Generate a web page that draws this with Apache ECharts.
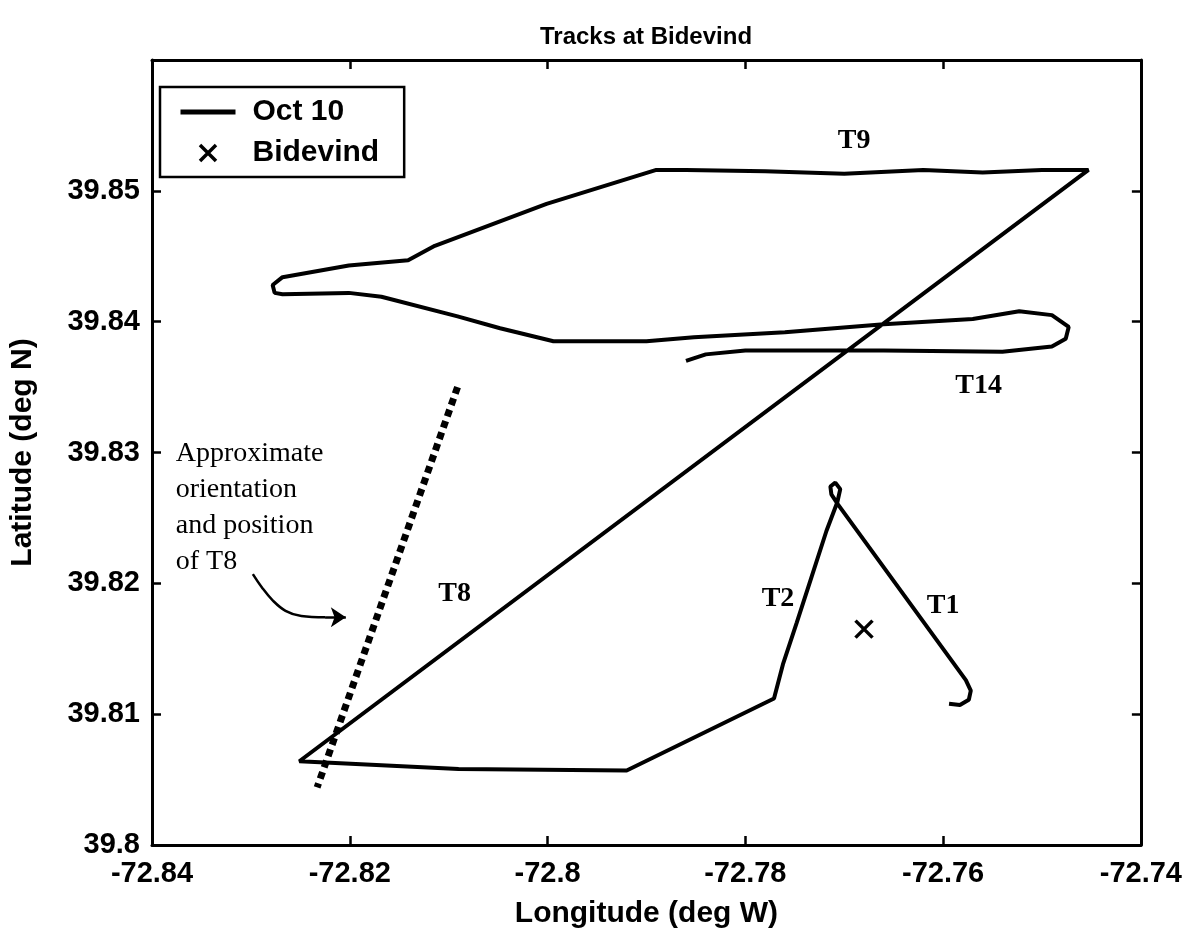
<!DOCTYPE html>
<html lang="en">
<head>
<meta charset="UTF-8" />
<title>Tracks at Bidevind</title>
<script src="https://cdn.jsdelivr.net/npm/echarts@6.0.0/dist/echarts.min.js"></script>
<style>html, body { margin: 0; background: #fff; }</style>
</head>
<body>
<div id="main" style="width: 1185px; height: 934px"></div>
<script type="text/javascript">
// ship track on Oct 10 (T1 -> T2 -> T8 -> T9 -> T14)
const trackLon = [
  -72.7594, -72.7583, -72.7574, -72.7572, -72.7577, -72.7706,
  -72.7713, -72.7714, -72.7709, -72.7704, -72.7707,
  -72.7718, -72.7733, -72.7748, -72.7762, -72.7771,
  -72.7920, -72.8090, -72.8251,
  -72.7453,
  -72.7500, -72.7560, -72.7620, -72.7700, -72.7780, -72.7860, -72.7890,
  -72.8001, -72.8114, -72.8141, -72.8201, -72.8268, -72.8278, -72.8276, -72.8268,
  -72.8201, -72.8168, -72.8091, -72.8048, -72.7994, -72.7900, -72.7852, -72.7760,
  -72.7660, -72.7570, -72.7523, -72.7490, -72.7473, -72.7476, -72.7490,
  -72.7540, -72.7660, -72.7800, -72.7840, -72.7860
];
const trackLat = [
  39.8108, 39.8107, 39.8111, 39.8118, 39.8126, 39.8260,
  39.8268, 39.8274, 39.8277, 39.8272, 39.8262,
  39.8240, 39.8205, 39.8170, 39.8138, 39.8112,
  39.8057, 39.8058, 39.8064,
  39.8516,
  39.8516, 39.8514, 39.8516, 39.8513, 39.8515, 39.8516, 39.8516,
  39.8490, 39.8458, 39.8447, 39.8443, 39.8434, 39.8428, 39.8422, 39.8421,
  39.8422, 39.8419, 39.8404, 39.8395, 39.8385, 39.8385, 39.8388, 39.8392,
  39.8398, 39.8402, 39.8408, 39.8405, 39.8396, 39.8387, 39.8381,
  39.8377, 39.8378, 39.8378, 39.8375, 39.8370
];
const bidevindLon = [-72.768];
const bidevindLat = [39.8165];

// approximate orientation of T8 (dotted)
const t8Lon = [-72.8091, -72.8233];
const t8Lat = [39.8350, 39.8044];

// curved arrow pointing at the dotted line: curve, then straight head segment
const arrowLon = [-72.8298, -72.8289, -72.8278, -72.8265, -72.8249, -72.8225];
const arrowLat = [39.8207, 39.8197, 39.8187, 39.8179, 39.8175, 39.8174];
const arrowHeadLon = [-72.8225, -72.8204];
const arrowHeadLat = [39.8174, 39.8174];

const xTicks = [-72.84, -72.82, -72.8, -72.78, -72.76, -72.74];
const yTicks = [39.8, 39.81, 39.82, 39.83, 39.84, 39.85];

const trackNames = ['T9', 'T14', 'T8', 'T2', 'T1'];
const trackNameLon = [-72.769, -72.7564, -72.8094, -72.7767, -72.7600];
const trackNameLat = [39.8538, 39.8351, 39.8192, 39.8188, 39.8183];

const noteText = 'Approximate\norientation\nand position\nof T8';
const noteLon = -72.8376;
const noteLat = 39.8313;

const sans = 'Liberation Sans, Arial, sans-serif';
const serif = 'Liberation Serif, Times New Roman, serif';
const xMark = 'path://M0,0L10,10M10,0L0,10';

function fmt(v) { return String(parseFloat(v.toFixed(2))); }

const axisBase = {
  type: 'value',
  axisLine: { show: true, onZero: false, lineStyle: { color: '#000', width: 3 } },
  axisTick: { show: true, inside: true, length: 9, lineStyle: { color: '#000', width: 2.5 } },
  splitLine: { show: false }
};
const labelFont = { color: '#000', fontFamily: sans, fontWeight: 'bold', fontSize: 29 };
const nameFont = { color: '#000', fontFamily: sans, fontWeight: 'bold', fontSize: 30 };

let chart = echarts.init(document.getElementById('main'));
chart.setOption({
  animation: false,
  backgroundColor: '#fff',
  title: {
    text: 'Tracks at Bidevind', left: 641, top: 20, textAlign: 'center',
    textStyle: { color: '#000', fontFamily: sans, fontWeight: 'bold', fontSize: 24 }
  },
  grid: { left: 141, right: 43, top: 60, bottom: 76 },
  legend: {
    left: 160, top: 87, orient: 'vertical',
    padding: [10, 25, 9, 18], itemGap: 11, itemWidth: 55, itemHeight: 16,
    borderColor: '#000', borderWidth: 2.5,
    lineStyle: { width: 5, color: '#000' },
    data: [
      { name: 'Oct 10', itemStyle: { color: 'transparent', borderColor: 'transparent', borderWidth: 0, opacity: 0 } },
      { name: 'Bidevind', icon: xMark, itemStyle: { color: 'transparent', borderColor: '#000', borderWidth: 3.5, opacity: 1 } }
    ],
    textStyle: { color: '#000', fontFamily: sans, fontWeight: 'bold', fontSize: 30, lineHeight: 30, padding: [0, 0, 0, 12] }
  },
  xAxis: [
    Object.assign({}, axisBase, {
      position: 'bottom', min: xTicks[0], max: xTicks[xTicks.length - 1], interval: 0.02,
      name: 'Longitude (deg W)', nameLocation: 'middle', nameGap: 54,
      nameTextStyle: nameFont,
      axisLabel: Object.assign({ margin: 14, formatter: fmt }, labelFont)
    }),
    Object.assign({}, axisBase, {
      position: 'top', min: xTicks[0], max: xTicks[xTicks.length - 1], interval: 0.02,
      axisLabel: { show: false }
    })
  ],
  yAxis: [
    Object.assign({}, axisBase, {
      position: 'left', min: yTicks[0], max: 39.86, interval: 0.01,
      name: 'Latitude (deg N)', nameLocation: 'middle', nameGap: 114,
      nameTextStyle: nameFont,
      axisLabel: Object.assign({
        margin: 12,
        formatter: v => (v > yTicks[yTicks.length - 1] + 0.005 ? '' : fmt(v))
      }, labelFont)
    }),
    Object.assign({}, axisBase, {
      position: 'right', min: yTicks[0], max: 39.86, interval: 0.01,
      axisLabel: { show: false }
    })
  ],
  series: [
    {
      name: 'Oct 10', type: 'line', symbol: 'none', showSymbol: false,
      lineStyle: { color: '#000', width: 4 }, itemStyle: { color: '#000' },
      data: trackLon.map((v, i) => [v, trackLat[i]])
    },
    {
      name: 'Bidevind', type: 'scatter', symbol: xMark, symbolSize: 17,
      itemStyle: { color: 'transparent', borderColor: '#000', borderWidth: 3.5, opacity: 1 },
      data: bidevindLon.map((v, i) => [v, bidevindLat[i]])
    },
    {
      name: 'T8 orientation', type: 'line', symbol: 'none', showSymbol: false,
      lineStyle: { color: '#000', width: 7, type: [7, 5], cap: 'butt' },
      data: t8Lon.map((v, i) => [v, t8Lat[i]])
    },
    {
      name: 'arrow', type: 'line', symbol: 'none', showSymbol: false, smooth: 0.4, silent: true,
      lineStyle: { color: '#000', width: 2.5 },
      data: arrowLon.map((v, i) => [v, arrowLat[i]])
    },
    {
      name: 'arrow head', type: 'lines', coordinateSystem: 'cartesian2d',
      symbol: ['none', 'arrow'], symbolSize: [11, 15], silent: true,
      lineStyle: { color: '#000', width: 2.5, opacity: 1 },
      data: [{ coords: arrowHeadLon.map((v, i) => [v, arrowHeadLat[i]]) }]
    }
  ]
});

// text annotations placed at data coordinates
let graphics = trackNames.map((t, i) => {
  const p = chart.convertToPixel({ seriesIndex: 0 }, [trackNameLon[i], trackNameLat[i]]);
  return {
    type: 'text', x: p[0], y: p[1],
    style: { text: t, fill: '#000', font: 'bold 28px ' + serif, textAlign: 'center', textVerticalAlign: 'middle' }
  };
});
const np = chart.convertToPixel({ seriesIndex: 0 }, [noteLon, noteLat]);
graphics.push({
  type: 'text', x: np[0], y: np[1],
  style: { text: noteText, fill: '#000', font: '28px ' + serif, lineHeight: 36, textAlign: 'left', textVerticalAlign: 'top' }
});
chart.setOption({ graphic: graphics });
</script>
</body>
</html>
